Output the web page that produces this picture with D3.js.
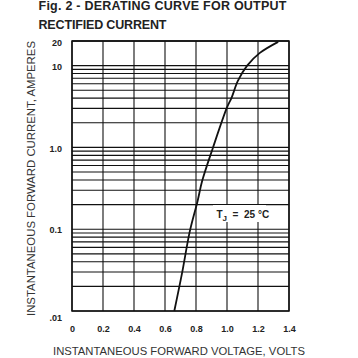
<!DOCTYPE html>
<html><head><meta charset="utf-8">
<script src="https://cdn.jsdelivr.net/npm/d3@7"></script>
<style>body{margin:0;background:#fff}svg{display:block}</style>
</head><body>
<script>
const voltage = [0.66, 0.71, 0.76, 0.81, 0.84, 0.91, 1.0, 1.03, 1.07, 1.13, 1.21, 1.33];
const current = [0.01, 0.029, 0.094, 0.22, 0.39, 1.0, 3.08, 4.07, 6.5, 10.0, 14.2, 19.5];
const xTicks = [0, 0.2, 0.4, 0.6, 0.8, 1.0, 1.2, 1.4];
const xTickLabels = ["0", "0.2", "0.4", "0.6", "0.8", "1.0", "1.2", "1.4"];
const yTicks = [20, 10, 1, 0.1, 0.01];
const yTickLabels = ["20", "10", "1.0", "0.1", ".01"];
const yGrid = [];
[0.01, 0.1, 1, 10].forEach(d => { for (let k = 1; k <= 9; k++) { if (d * k <= 20) yGrid.push(d * k); } });
yGrid.push(20);

const W = 358, H = 358;
const L = 72, R = 289, T = 41, B = 311;
const svg = d3.select("body").append("svg").attr("width", W).attr("height", H);
const x = d3.scaleLinear().domain([0, 1.4]).range([L, R]);
const y = d3.scaleLog().domain([0.01, 20]).range([B, T]);

const font = "'Liberation Sans', Arial, sans-serif";

// title
svg.append("text").attr("x", 38.5).attr("y", 9.5).attr("font-family", font).attr("font-weight", "bold")
  .attr("font-size", 12.5).attr("fill", "#222").attr("textLength", 248).attr("lengthAdjust", "spacing")
  .text("Fig. 2 - DERATING CURVE FOR OUTPUT");
svg.append("text").attr("x", 38.5).attr("y", 28.5).attr("font-family", font).attr("font-weight", "bold")
  .attr("font-size", 12.5).attr("fill", "#222").attr("textLength", 128).attr("lengthAdjust", "spacing")
  .text("RECTIFIED CURRENT");

// grid
const g = svg.append("g");
g.selectAll("line.h").data(yGrid).enter().append("line").attr("class", "h")
  .attr("x1", L).attr("x2", R).attr("y1", d => y(d)).attr("y2", d => y(d))
  .attr("stroke", "#111").attr("stroke-width", 1.1);
g.selectAll("line.v").data(xTicks).enter().append("line").attr("class", "v")
  .attr("y1", T).attr("y2", B).attr("x1", d => x(d)).attr("x2", d => x(d))
  .attr("stroke", "#111").attr("stroke-width", 1.1);
g.append("rect").attr("x", L).attr("y", T).attr("width", R - L).attr("height", B - T)
  .attr("fill", "none").attr("stroke", "#111").attr("stroke-width", 1.5);

// axes labels via d3 axes
const xAxis = svg.append("g").attr("transform", `translate(0,${B})`)
  .call(d3.axisBottom(x).tickValues(xTicks).tickSize(0).tickPadding(15)
    .tickFormat((d, i) => xTickLabels[i]));
xAxis.select(".domain").remove();
xAxis.selectAll("text").attr("font-family", font).attr("font-weight", "bold").attr("font-size", 9).attr("fill", "#222");

const yAxis = svg.append("g").attr("transform", `translate(${L},0)`)
  .call(d3.axisLeft(y).tickValues(yTicks).tickSize(0).tickPadding(10)
    .tickFormat((d, i) => yTickLabels[i]));
yAxis.select(".domain").remove();
yAxis.selectAll("text").attr("font-family", font).attr("font-weight", "bold").attr("font-size", 9).attr("fill", "#222")
  .attr("dy", (d) => d === 0.01 ? "1.05em" : (d === 20 ? "0.55em" : "0.4em"));

// axis titles
svg.append("text").attr("x", 53).attr("y", 355)
  .attr("font-family", font).attr("font-size", 11).attr("fill", "#333")
  .attr("textLength", 252).attr("lengthAdjust", "spacingAndGlyphs")
  .text("INSTANTANEOUS FORWARD VOLTAGE, VOLTS");
svg.append("text").attr("transform", "translate(35,316) rotate(-90)")
  .attr("font-family", font).attr("font-size", 11).attr("fill", "#333")
  .attr("textLength", 275).attr("lengthAdjust", "spacingAndGlyphs")
  .text("INSTANTANEOUS FORWARD CURRENT, AMPERES");

// curve
const pts = voltage.map((v, i) => [v, current[i]]);
svg.append("path").datum(pts)
  .attr("d", d3.line().x(d => x(d[0])).y(d => y(d[1])).curve(d3.curveCatmullRom))
  .attr("fill", "none").attr("stroke", "#111").attr("stroke-width", 1.8);

// annotation
const ann = svg.append("g");
ann.append("rect").attr("x", 213).attr("y", 205).attr("width", 53).attr("height", 17).attr("fill", "#fff");
const t = ann.append("text").attr("x", 216.5).attr("y", 218).attr("font-family", font)
  .attr("font-weight", "bold").attr("font-size", 10).attr("fill", "#222").style("white-space", "pre");
t.append("tspan").text("T");
t.append("tspan").attr("font-size", 8).attr("dy", 2.5).text("J");
t.append("tspan").attr("dy", -2.5).text("  =  25 \u00B0C");
</script>
</body></html>
